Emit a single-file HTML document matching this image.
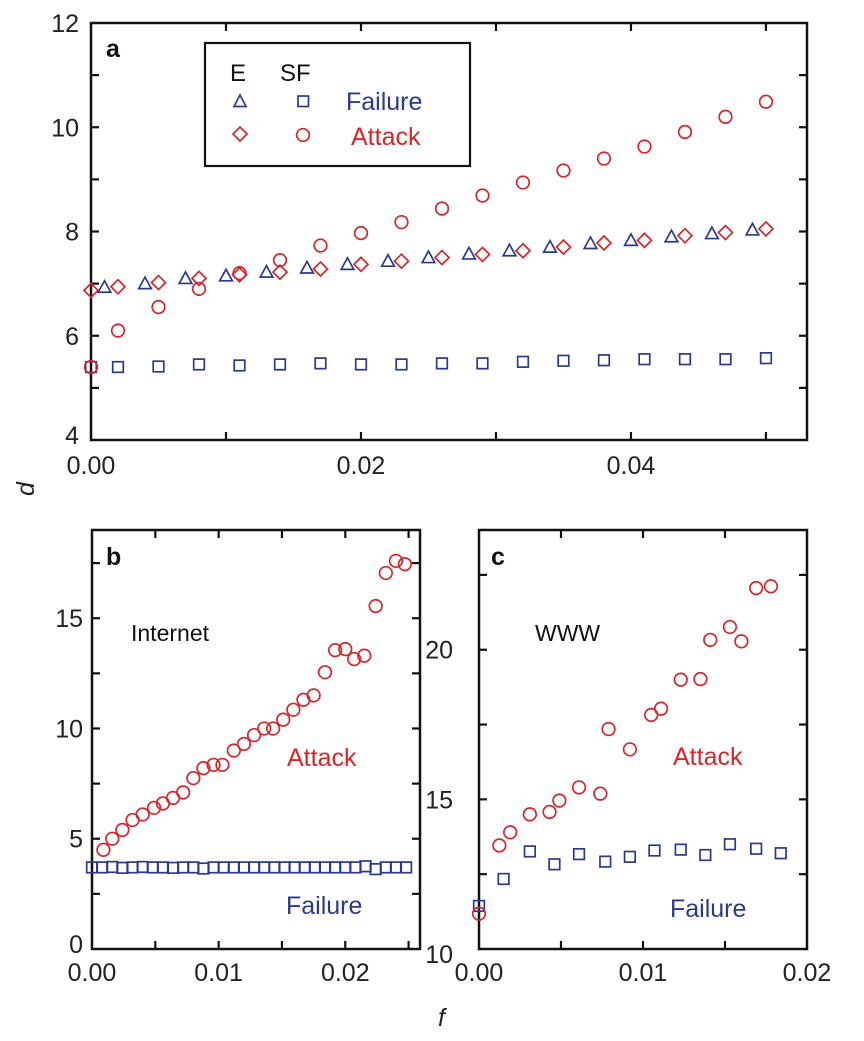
<!DOCTYPE html>
<html><head><meta charset="utf-8"><style>
html,body{margin:0;padding:0;background:#fff}
svg{display:block;font-family:"Liberation Sans",Arial,sans-serif}
</style></head><body>
<svg id="chart" width="864" height="1041" viewBox="0 0 864 1041" xmlns="http://www.w3.org/2000/svg"></svg>
<script>
// Panel a data
const aFailE_f = [0.001,0.004,0.007,0.010,0.013,0.016,0.019,0.022,0.025,0.028,0.031,0.034,0.037,0.040,0.043,0.046,0.049];
const aFailE_d = [6.93,7.0,7.1,7.15,7.22,7.3,7.37,7.43,7.5,7.57,7.63,7.7,7.77,7.83,7.9,7.96,8.03];
const aAtk_f = [0,0.002,0.005,0.008,0.011,0.014,0.017,0.020,0.023,0.026,0.029,0.032,0.035,0.038,0.041,0.044,0.047,0.050];
const aAtkE_d = [6.87,6.94,7.02,7.1,7.17,7.22,7.28,7.37,7.43,7.5,7.56,7.63,7.7,7.78,7.83,7.92,7.98,8.05];
const aAtkSF_d = [5.4,6.1,6.55,6.9,7.2,7.45,7.73,7.97,8.18,8.44,8.69,8.94,9.17,9.4,9.63,9.91,10.2,10.49];
const aFailSF_d = [5.4,5.4,5.41,5.45,5.43,5.45,5.47,5.45,5.45,5.47,5.47,5.5,5.52,5.53,5.55,5.55,5.55,5.57];
// Panel b data (Internet)
const bAtk_f = [0.0009,0.0016,0.0024,0.0032,0.004,0.0049,0.0056,0.0064,0.0072,0.008,0.0088,0.0096,0.0103,0.0112,0.012,0.0128,0.0136,0.0143,0.0151,0.0159,0.0167,0.0175,0.0184,0.0192,0.02,0.0207,0.0215,0.0224,0.0232,0.024,0.0247];
const bAtk_d = [4.5,5.0,5.4,5.85,6.1,6.4,6.6,6.85,7.1,7.75,8.2,8.35,8.35,9.0,9.3,9.7,10.0,10.0,10.4,10.85,11.3,11.5,12.55,13.55,13.6,13.15,13.3,15.55,17.05,17.6,17.45];
const bFail_f = [0,0.0008,0.0016,0.0024,0.0032,0.004,0.0048,0.0056,0.0064,0.0072,0.008,0.0088,0.0096,0.0104,0.0112,0.012,0.0128,0.0136,0.0144,0.0152,0.016,0.0168,0.0176,0.0184,0.0192,0.02,0.0208,0.0216,0.0224,0.0232,0.024,0.0248];
const bFail_d = [3.7,3.7,3.72,3.68,3.7,3.72,3.7,3.7,3.68,3.7,3.7,3.65,3.7,3.7,3.7,3.7,3.7,3.7,3.7,3.7,3.7,3.7,3.7,3.7,3.7,3.7,3.7,3.75,3.62,3.7,3.7,3.7];
// Panel c data (WWW)
const cAtk_f = [0,0.00124,0.0019,0.0031,0.0043,0.0049,0.0061,0.0074,0.0079,0.0092,0.0105,0.0111,0.0123,0.0135,0.0141,0.0153,0.016,0.0169,0.0178];
const cAtk_d = [11.18,13.46,13.9,14.5,14.58,14.96,15.4,15.19,17.35,16.67,17.82,18.03,19.0,19.02,20.33,20.76,20.28,22.06,22.12];
const cFail_f = [0,0.0015,0.0031,0.0046,0.0061,0.0077,0.0092,0.0107,0.0123,0.0138,0.0153,0.0169,0.0184];
const cFail_d = [11.44,12.34,13.26,12.83,13.17,12.92,13.08,13.29,13.32,13.14,13.5,13.35,13.2];

const RED="#d7262b", BLUE="#2b3990", NS="http://www.w3.org/2000/svg";
const svg=document.getElementById('chart');
function el(tag,attrs,parent){const e=document.createElementNS(NS,tag);for(const k in attrs)e.setAttribute(k,attrs[k]);(parent||svg).appendChild(e);return e;}
function txt(s,attrs,parent){const t=el('text',attrs,parent);t.textContent=s;return t;}

function panel(name,L,R,T,B,x0,x1,y0,y1){
  const g=el('g',{});
  
  
  const sx=v=>L+(v-x0)/(x1-x0)*(R-L);
  const sy=v=>B-(v-y0)/(y1-y0)*(B-T);
  const fr=el('rect',{x:L,y:T,width:R-L,height:B-T,fill:'none',stroke:'#111','stroke-width':2.5},g);
  
  
  return {g,sx,sy,L,R,T,B};
}
function ticks(p,xt,yt,len){
  for(const v of xt){const x=p.sx(v);
    el('line',{x1:x,x2:x,y1:p.B,y2:p.B-len,stroke:'#111','stroke-width':2.2},p.g);
    el('line',{x1:x,x2:x,y1:p.T,y2:p.T+len,stroke:'#111','stroke-width':2.2},p.g);}
  for(const v of yt){const y=p.sy(v);
    el('line',{x1:p.L,x2:p.L+len,y1:y,y2:y,stroke:'#111','stroke-width':2.2},p.g);
    el('line',{x1:p.R,x2:p.R-len,y1:y,y2:y,stroke:'#111','stroke-width':2.2},p.g);}
}
function marker(p,type,fx,dy,color,nm){
  const g=el('g',{fill:'none',stroke:color,'stroke-width':1.7},p.g);
  
  
  fx.forEach((f,i)=>{const x=p.sx(f),y=p.sy(dy[i]);let m;
    if(type==='circle')m=el('circle',{cx:x,cy:y,r:6.3},g);
    else if(type==='square')m=el('rect',{x:x-5.3,y:y-5.3,width:10.6,height:10.6},g);
    else if(type==='tri')m=el('polygon',{points:`${x},${y-6.5} ${x-6.3},${y+5} ${x+6.3},${y+5}`},g);
    else m=el('polygon',{points:`${x},${y-7} ${x+7},${y} ${x},${y+7} ${x-7},${y}`},g);
    
    
  });
}

// Panel a
const pa=panel('a',91,807,23,440,0,0.05304,4,12);
ticks(pa,[0.01,0.02,0.03,0.04,0.05],[5,6,7,8,9,10,11],8);
const aYt=['4','6','8','10','12'], aYv=[4,6,8,10,12];
aYv.forEach((v,i)=>{const t=txt(aYt[i],{x:79,y:pa.sy(v)+(v===4?4:9),'text-anchor':'end','font-size':25,fill:'#222'},pa.g);});
const aXt=['0.00','0.02','0.04'], aXv=[0,0.02,0.04];
aXv.forEach((v,i)=>{const t=txt(aXt[i],{x:pa.sx(v),y:474,'text-anchor':'middle','font-size':25,fill:'#222'},pa.g);});
marker(pa,'square',aAtk_f,aFailSF_d,BLUE,'sf-failure-series');
marker(pa,'tri',aFailE_f,aFailE_d,BLUE,'e-failure-series');
marker(pa,'diamond',aAtk_f,aAtkE_d,RED,'e-attack-series');
marker(pa,'circle',aAtk_f,aAtkSF_d,RED,'sf-attack-series');
let t=txt('a',{x:106,y:57,'font-size':25,'font-weight':'bold',fill:'#111'},pa.g);
// legend
const lg=el('g',{},pa.g);


el('rect',{x:205,y:43,width:265,height:123,fill:'#fff',stroke:'#111','stroke-width':2.2},lg);
txt('E',{x:230,y:81,'font-size':24,fill:'#111'},lg);
txt('SF',{x:280,y:81,'font-size':24,fill:'#111'},lg);
el('polygon',{points:'240,95 234,106.5 246,106.5',fill:'none',stroke:BLUE,'stroke-width':1.7},lg);
el('rect',{x:298,y:96,width:10.5,height:10.5,fill:'none',stroke:BLUE,'stroke-width':1.7},lg);
el('polygon',{points:'240,127 247,134 240,141 233,134',fill:'none',stroke:RED,'stroke-width':1.7},lg);
el('circle',{cx:303,cy:135,r:6.3,fill:'none',stroke:RED,'stroke-width':1.7},lg);
t=txt('Failure',{x:346,y:110,'font-size':25,fill:BLUE},lg);
t=txt('Attack',{x:351,y:145,'font-size':25,fill:RED},lg);

// Panel b
const pb=panel('b',92,420,530,949,0,0.0259,0,19);
ticks(pb,[0.005,0.01,0.015,0.02,0.025],[2.5,5,7.5,10,12.5,15,17.5],8);
const bYt=['0','5','10','15'], bYv=[0,5,10,15];
bYv.forEach((v,i)=>{const t=txt(bYt[i],{x:83,y:pb.sy(v)+(v===0?4:9),'text-anchor':'end','font-size':25,fill:'#222'},pb.g);});
const bXt=['0.00','0.01','0.02'], bXv=[0,0.01,0.02];
bXv.forEach((v,i)=>{const t=txt(bXt[i],{x:pb.sx(v),y:981,'text-anchor':'middle','font-size':25,fill:'#222'},pb.g);});
marker(pb,'square',bFail_f,bFail_d,BLUE,'internet-failure-series');
marker(pb,'circle',bAtk_f,bAtk_d,RED,'internet-attack-series');
t=txt('b',{x:106,y:565,'font-size':25,'font-weight':'bold',fill:'#111'},pb.g);
t=txt('Internet',{x:131,y:641,'font-size':23,fill:'#111'},pb.g);
t=txt('Attack',{x:287,y:766,'font-size':25,fill:RED},pb.g);
t=txt('Failure',{x:286,y:914,'font-size':25,fill:BLUE},pb.g);

// Panel c
const pc=panel('c',479,807,530,949,0,0.02,10,24);
ticks(pc,[0.005,0.01,0.015],[12.5,15,17.5,20,22.5],8);
const cYt=['10','15','20'], cYv=[10,15,20];
cYv.forEach((v,i)=>{const t=txt(cYt[i],{x:453,y:pc.sy(v)+(v===10?14:9),'text-anchor':'end','font-size':25,fill:'#222'},pc.g);});
const cXt=['0.00','0.01','0.02'], cXv=[0,0.01,0.02];
cXv.forEach((v,i)=>{const t=txt(cXt[i],{x:pc.sx(v),y:981,'text-anchor':'middle','font-size':25,fill:'#222'},pc.g);});
marker(pc,'square',cFail_f,cFail_d,BLUE,'www-failure-series');
marker(pc,'circle',cAtk_f,cAtk_d,RED,'www-attack-series');
t=txt('c',{x:491,y:565,'font-size':25,'font-weight':'bold',fill:'#111'},pc.g);
t=txt('WWW',{x:535,y:641,'font-size':23,fill:'#111'},pc.g);
t=txt('Attack',{x:673,y:765,'font-size':25,fill:RED},pc.g);
t=txt('Failure',{x:670,y:917,'font-size':25,fill:BLUE},pc.g);

// Axis titles
t=txt('d',{x:0,y:0,'font-size':25,'font-style':'italic',fill:'#222',transform:'translate(34,496) rotate(-90)'});
t=txt('f',{x:438,y:1026,'font-size':25,'font-style':'italic',fill:'#222'});
</script>
</body></html>
